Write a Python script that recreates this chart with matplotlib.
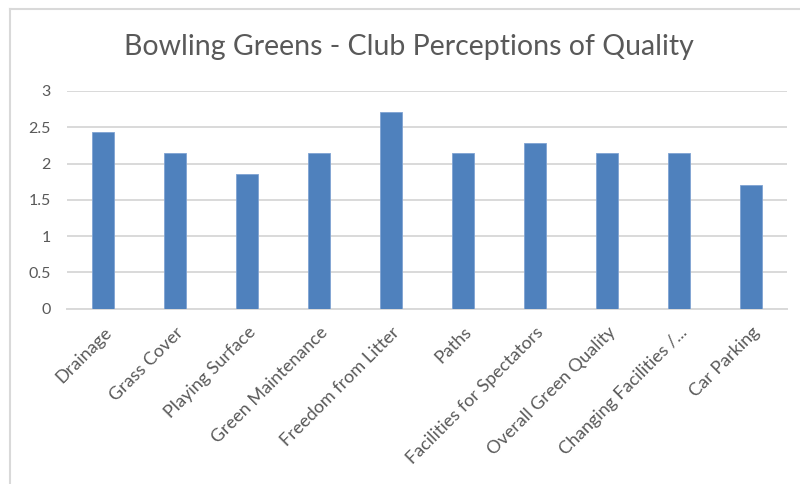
import matplotlib.pyplot as plt
from matplotlib.lines import Line2D

categories = ['Drainage', 'Grass Cover', 'Playing Surface', 'Green Maintenance',
              'Freedom from Litter', 'Paths', 'Facilities for Spectators',
              'Overall Green Quality', 'Changing Facilities /...', 'Car Parking']
scores = [2.43, 2.14, 1.86, 2.14, 2.71, 2.14, 2.29, 2.14, 2.14, 1.71]
y_ticks = [0, 0.5, 1, 1.5, 2, 2.5, 3]
y_labels = ['0', '0.5', '1', '1.5', '2', '2.5', '3']

plt.rcParams['font.family'] = ['Lato', 'DejaVu Sans']
text_grey = '#595959'
bar_blue = '#4f81bd'

fig = plt.figure(figsize=(8, 4.84), dpi=100)
ax = fig.add_axes([0.084, 0.362, 0.9, 0.45])

x = range(len(categories))
ax.bar(x, scores, width=0.31, color=bar_blue, edgecolor='#7fa3d3', linewidth=0.6, zorder=3)

ax.set_xlim(-0.5, len(categories) - 0.5)
ax.set_ylim(0, 3)
ax.set_yticks(y_ticks)
ax.set_yticklabels(y_labels)
ax.set_xticks(list(x))
ax.set_xticklabels(categories, rotation=45, ha='right', rotation_mode='anchor')

ax.grid(axis='y', color='#d9d9d9', linewidth=1.4, zorder=0)
ax.tick_params(axis='both', length=0, colors=text_grey)
ax.tick_params(axis='y', pad=12, labelsize=11.5)
ax.tick_params(axis='x', pad=11, labelsize=13)
for s in ['top', 'right', 'left']:
    ax.spines[s].set_visible(False)
ax.spines['bottom'].set_color('#d9d9d9')
ax.spines['bottom'].set_linewidth(1.4)

fig.text(0.511, 0.903, 'Bowling Greens - Club Perceptions of Quality',
         ha='center', va='center', fontsize=20.5, color=text_grey)

# chart frame, only the top and left edges show
fig.add_artist(Line2D([0.012, 1.0], [0.982, 0.982], color='#d9d9d9', linewidth=1.5,
                      transform=fig.transFigure))
fig.add_artist(Line2D([0.012, 0.012], [0.0, 0.982], color='#d9d9d9', linewidth=1.5,
                      transform=fig.transFigure))

fig.savefig('out.png', dpi=100, facecolor='white')
